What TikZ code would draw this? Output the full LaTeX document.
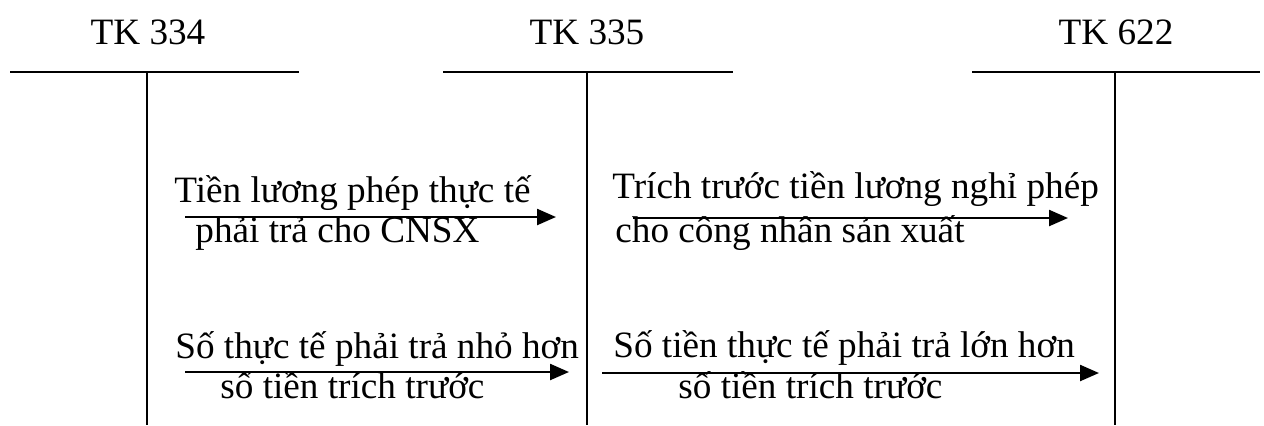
\documentclass[tikz,border=0pt]{standalone}
\usepackage{fontspec}
\setmainfont{Liberation Serif}
\usetikzlibrary{arrows.meta}
\begin{document}
\begin{tikzpicture}[x=0.5pt,y=-0.5pt,
  lbl/.style={inner sep=0pt, anchor=base west, font=\fontsize{18.6}{22}\selectfont},
  title/.style={inner sep=0pt, anchor=base, font=\fontsize{18.6}{22}\selectfont},
  acct/.style={line width=1.1pt},
  stem/.style={line width=0.9pt},
  flow/.style={line width=1.2pt, -{Triangle[length=9.5pt,width=8pt]}}]
\useasboundingbox (0,0) rectangle (1264,425);

% account headings
\node[title] (t334) at (148,44) {TK 334};
\node[title] (t335) at (587,44) {TK 335};
\node[title] (t622) at (1116,44) {TK 622};

% T-account bars
\coordinate (a1) at (10,72);   \coordinate (b1) at (299,72);
\coordinate (a2) at (443,72);  \coordinate (b2) at (733,72);
\coordinate (a3) at (972,72);  \coordinate (b3) at (1260,72);
\coordinate (s1) at (147,72);  \coordinate (e1) at (147,425);
\coordinate (s2) at (587,72);  \coordinate (e2) at (587,425);
\coordinate (s3) at (1115,72); \coordinate (e3) at (1115,425);
\draw[acct] (a1) -- (b1);
\draw[acct] (a2) -- (b2);
\draw[acct] (a3) -- (b3);
\draw[stem] (s1) -- (e1);
\draw[stem] (s2) -- (e2);
\draw[stem] (s3) -- (e3);

% first row of entries
\node[lbl] (l1a) at (174,202) {Tiền lương phép thực tế};
\node[lbl] (l1b) at (195,242) {phải trả cho CNSX};
\coordinate (f1s) at (185,217); \coordinate (f1e) at (556,217);
\draw[flow] (f1s) -- (f1e);

\node[lbl] (r1a) at (612,198) {Trích trước tiền lương nghỉ phép};
\node[lbl] (r1b) at (615,242) {cho công nhân sản xuất};
\coordinate (g1s) at (633,218); \coordinate (g1e) at (1068,218);
\draw[flow] (g1s) -- (g1e);

% second row of entries
\node[lbl] (l2a) at (175,358) {Số thực tế phải trả nhỏ hơn};
\node[lbl] (l2b) at (220,398) {số tiền trích trước};
\coordinate (f2s) at (185,372); \coordinate (f2e) at (569,372);
\draw[flow] (f2s) -- (f2e);

\node[lbl] (r2a) at (613,357) {Số tiền thực tế phải trả lớn hơn};
\node[lbl] (r2b) at (678,398) {số tiền trích trước};
\coordinate (g2s) at (602,373); \coordinate (g2e) at (1099,373);
\draw[flow] (g2s) -- (g2e);
\end{tikzpicture}
\end{document}
